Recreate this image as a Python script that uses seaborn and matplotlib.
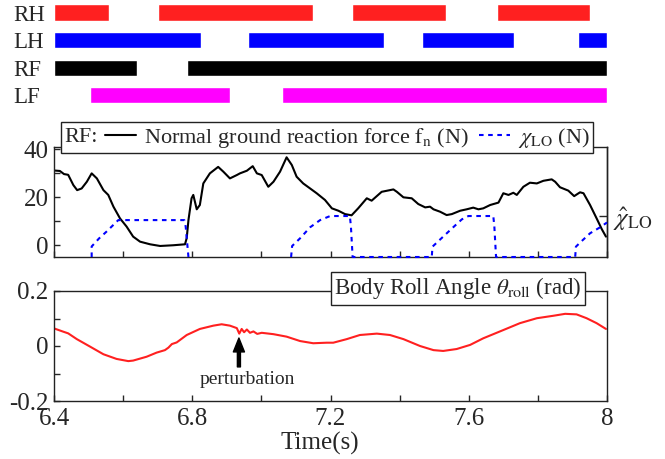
import numpy as np
import pandas as pd
import matplotlib
matplotlib.use("Agg")
import matplotlib.pyplot as plt
import seaborn as sns
from matplotlib.lines import Line2D
from matplotlib.offsetbox import HPacker

# ---------------- data ----------------
legs = ["RH", "LH", "RF", "LF"]
leg_colors = ["#ff2020", "#0000ff", "#000000", "#ff00ff"]
rh_stance = [(6.400, 6.560), (6.701, 7.149), (7.262, 7.535), (7.682, 7.950)]
lh_stance = [(6.400, 6.824), (6.960, 7.355), (7.466, 7.730), (7.917, 8.000)]
rf_stance = [(6.400, 6.640), (6.786, 8.000)]
lf_stance = [(6.504, 6.909), (7.061, 8.000)]

fn_t = [6.400, 6.417, 6.429, 6.441, 6.456, 6.467, 6.480, 6.495, 6.509, 6.524,
        6.543, 6.557, 6.572, 6.591, 6.610, 6.629, 6.649, 6.678, 6.707, 6.745,
        6.779, 6.784, 6.789, 6.798, 6.803, 6.813, 6.822, 6.832, 6.851, 6.875,
        6.890, 6.909, 6.929, 6.938, 6.958, 6.975, 6.987, 7.001, 7.020, 7.035,
        7.054, 7.073, 7.088, 7.102, 7.121, 7.141, 7.160, 7.184, 7.204, 7.223,
        7.242, 7.261, 7.280, 7.305, 7.319, 7.348, 7.382, 7.392, 7.411, 7.435,
        7.454, 7.474, 7.488, 7.498, 7.517, 7.536, 7.551, 7.575, 7.594, 7.613,
        7.628, 7.642, 7.662, 7.686, 7.700, 7.715, 7.729, 7.739, 7.758, 7.777,
        7.797, 7.816, 7.840, 7.850, 7.864, 7.888, 7.905, 7.922, 7.932, 7.951,
        7.970, 7.985, 7.997]
fn_val = [31.2, 31.0, 29.7, 29.4, 25.1, 23.0, 23.7, 26.5, 30.0, 27.9,
          23.0, 21.0, 16.1, 11.2, 7.8, 3.6, 1.5, 0.4, -0.3, 0.0,
          0.4, 3.0, 10.5, 19.6, 21.0, 15.0, 16.8, 25.8, 30.0, 32.7,
          30.7, 27.9, 29.3, 30.0, 31.1, 33.0, 30.0, 29.3, 24.4, 26.5,
          30.7, 36.7, 33.5, 28.6, 25.8, 23.7, 21.7, 18.9, 15.4, 14.4,
          13.0, 12.5, 15.4, 19.6, 18.6, 22.3, 23.3, 22.3, 20.0, 19.6,
          17.2, 15.8, 16.1, 15.0, 14.0, 12.6, 13.0, 14.4, 15.0, 15.7,
          15.0, 15.4, 16.8, 17.8, 21.7, 21.0, 21.9, 21.0, 24.4, 26.1,
          25.8, 26.9, 27.5, 26.5, 24.2, 22.8, 20.5, 22.1, 21.7, 16.8,
          11.2, 6.7, 3.6]

chi_t = [6.509, 6.509, 6.530, 6.552, 6.586, 6.777, 6.781, 6.789,
         7.086, 7.089, 7.112, 7.141, 7.170, 7.199, 7.256, 7.259, 7.264,
         7.493, 7.495, 7.526, 7.555, 7.580, 7.599, 7.671, 7.674, 7.679,
         7.908, 7.910, 7.922, 7.951, 7.980, 8.000]
chi_val = [-4.9, -0.5, 2.8, 5.7, 10.5, 10.5, 7.8, -4.9,
           -4.9, -0.3, 2.9, 7.5, 10.5, 12.2, 12.2, 8.0, -4.9,
           -4.9, -0.6, 3.6, 7.5, 10.8, 12.2, 12.2, 8.0, -4.9,
           -4.9, -0.6, 1.1, 5.0, 7.5, 9.5]
chi_seg = [1] * 8 + [2] * 24
chi_hat = 12.2

roll_t = [6.400, 6.427, 6.441, 6.466, 6.504, 6.543, 6.581, 6.615, 6.629, 6.668,
          6.697, 6.721, 6.731, 6.741, 6.755, 6.784, 6.822, 6.861, 6.885, 6.909,
          6.929, 6.936, 6.943, 6.950, 6.958, 6.967, 6.977, 6.988, 7.001, 7.035,
          7.073, 7.112, 7.150, 7.189, 7.208, 7.247, 7.285, 7.334, 7.372, 7.411,
          7.459, 7.498, 7.526, 7.565, 7.604, 7.642, 7.700, 7.748, 7.797, 7.845,
          7.879, 7.912, 7.941, 7.970, 7.997]
roll_val = [0.064, 0.052, 0.046, 0.025, -0.002, -0.030, -0.047, -0.055, -0.053, -0.039,
            -0.024, -0.015, -0.006, 0.007, 0.013, 0.040, 0.062, 0.074, 0.079, 0.074,
            0.065, 0.045, 0.062, 0.050, 0.060, 0.048, 0.053, 0.044, 0.048, 0.043,
            0.034, 0.018, 0.010, 0.012, 0.012, 0.025, 0.040, 0.045, 0.040, 0.025,
            0.000, -0.015, -0.018, -0.011, 0.004, 0.028, 0.058, 0.083, 0.101, 0.110,
            0.117, 0.115, 0.101, 0.083, 0.062]
perturb_t = 6.935
perturb_tip = 0.029
perturb_tail = -0.076

x_major = [6.4, 6.8, 7.2, 7.6, 8.0]
x_major_labels = ["6.4", "6.8", "7.2", "7.6", "8"]
x_minor = [6.6, 7.0, 7.4, 7.8]

# ---------------- style ----------------
sns.set_theme(style="ticks")
plt.rcParams.update({
    "font.family": ["Liberation Serif", "DejaVu Serif"],
    "mathtext.fontset": "stix",
    "xtick.direction": "in",
    "ytick.direction": "in",
    "axes.edgecolor": "#222222",
    "axes.linewidth": 1.0,
    "xtick.major.size": 4, "ytick.major.size": 4,
    "xtick.minor.size": 4, "ytick.minor.size": 4,
    "xtick.major.width": 1, "ytick.major.width": 1,
    "xtick.minor.width": 1, "ytick.minor.width": 1,
})

fig = plt.figure(figsize=(6.65, 4.59), dpi=100)
L, W = 54 / 665, 553 / 665
ax0 = fig.add_axes([L, 1 - 109.1 / 459, W, 110.4 / 459])
ax1 = fig.add_axes([L, 1 - 257 / 459, W, 110 / 459])
ax2 = fig.add_axes([L, 1 - 401 / 459, W, 110 / 459])

# ---- gait diagram ----
for i, (st, c) in enumerate(zip([rh_stance, lh_stance, rf_stance, lf_stance], leg_colors)):
    ax0.broken_barh([(a, b - a) for a, b in st], (i - 0.29, 0.58), facecolors=c)
ax0.set_xlim(6.4, 8.0)
ax0.set_ylim(3.5, -0.5)
for s in ax0.spines.values():
    s.set_visible(False)
ax0.set_xticks([])
ax0.set_yticks(range(4), labels=legs)
ax0.tick_params(axis="y", length=0, pad=29.5, labelsize=16.5)
for lbl in ax0.get_yticklabels():
    lbl.set_horizontalalignment("left")

# ---- normal force ----
df_fn = pd.DataFrame({"t": fn_t, "f": fn_val})
sns.lineplot(data=df_fn, x="t", y="f", ax=ax1, color="black", lw=1.5, sort=False)
df_chi = pd.DataFrame({"t": chi_t, "c": chi_val, "seg": chi_seg})
sns.lineplot(data=df_chi, x="t", y="c", units="seg", estimator=None, ax=ax1,
             color="#0000ff", lw=1.5, sort=False, linestyle=(0, (2.2, 2.2)))
for ln in ax1.lines[1:]:
    ln.set_clip_on(False)
    ln.set_zorder(3)
ax1.set_xlim(6.4, 8.0)
ax1.set_ylim(-4.9, 41)
ax1.set_xticks(x_major + x_minor)
ax1.tick_params(axis="x", labelbottom=False)
ax1.set_yticks([0, 20, 40], labels=["0", "20", "40"])
ax1.set_yticks([10, 30], minor=True)
ax1.tick_params(axis="y", which="both", labelsize=18, pad=4)
ax1.set_xlabel("")
ax1.set_ylabel("")
sec = ax1.secondary_yaxis("right")
sec.set_yticks([chi_hat], labels=[r"$\hat{\chi}_{\mathrm{LO}}$"])
sec.tick_params(axis="y", direction="in", length=6, labelsize=18, pad=4)

handles = [Line2D([], [], color="black", lw=1.5),
           Line2D([], [], color="#0000ff", lw=1.5, linestyle=(0, (2.2, 2.2)))]
labels = [r"Normal ground reaction force $\mathrm{f}_{\mathrm{n}}$ (N)",
          r"$\chi_{\mathrm{LO}}$ (N)"]
leg = ax1.legend(handles, labels, title="RF:", ncol=2, loc="center",
                 bbox_to_anchor=(0.4917, 0.7004), bbox_transform=fig.transFigure,
                 frameon=True, fancybox=False, framealpha=1, edgecolor="#222222",
                 borderpad=0.15, handlelength=1.4, handletextpad=0.35,
                 columnspacing=0.45, fontsize=16, title_fontsize=16, borderaxespad=0)
leg.get_frame().set_linewidth(1.0)
try:
    old = leg._legend_box
    newbox = HPacker(pad=old.pad, sep=0.35 * 16, align="center",
                     children=[leg._legend_title_box, leg._legend_handle_box])
    newbox.set_figure(fig)
    newbox.axes = ax1
    leg._legend_box = newbox
    newbox.set_offset(leg._findoffset)
except Exception:
    pass

# ---- roll angle ----
df_roll = pd.DataFrame({"t": roll_t, "r": roll_val})
sns.lineplot(data=df_roll, x="t", y="r", ax=ax2, color="#ff2020", lw=1.5, sort=False)
ax2.set_xlim(6.4, 8.0)
ax2.set_ylim(-0.2, 0.2)
ax2.set_xticks(x_major, labels=x_major_labels)
ax2.set_xticks(x_minor, minor=True)
ax2.set_yticks([-0.2, 0, 0.2], labels=["-0.2", "0", "0.2"])
ax2.set_yticks([-0.1, 0.1], minor=True)
ax2.tick_params(axis="both", which="both", labelsize=18)
ax2.tick_params(axis="x", pad=5)
ax2.tick_params(axis="y", pad=4)
ax2.set_ylabel("")
ax2.set_xlabel("Time(s)", fontsize=18)
ax2.xaxis.set_label_coords(0.481, -0.285)
ax2.text(0.6887, 0.3715, r"Body Roll Angle $\theta_{\mathrm{roll}}$ (rad)",
         transform=fig.transFigure, ha="center", va="center", fontsize=16.5,
         bbox=dict(boxstyle="square,pad=0.15", fc="white", ec="#222222", lw=1.0),
         zorder=5)
ax2.annotate("", xy=(perturb_t, perturb_tip), xytext=(perturb_t, perturb_tail),
             arrowprops=dict(facecolor="black", edgecolor="black", width=2.2,
                             headwidth=8, headlength=10, shrink=0))
ax2.text(perturb_t + 0.023, -0.12, "perturbation", ha="center", va="center", fontsize=14)

fig.savefig("out.png", dpi=100)
